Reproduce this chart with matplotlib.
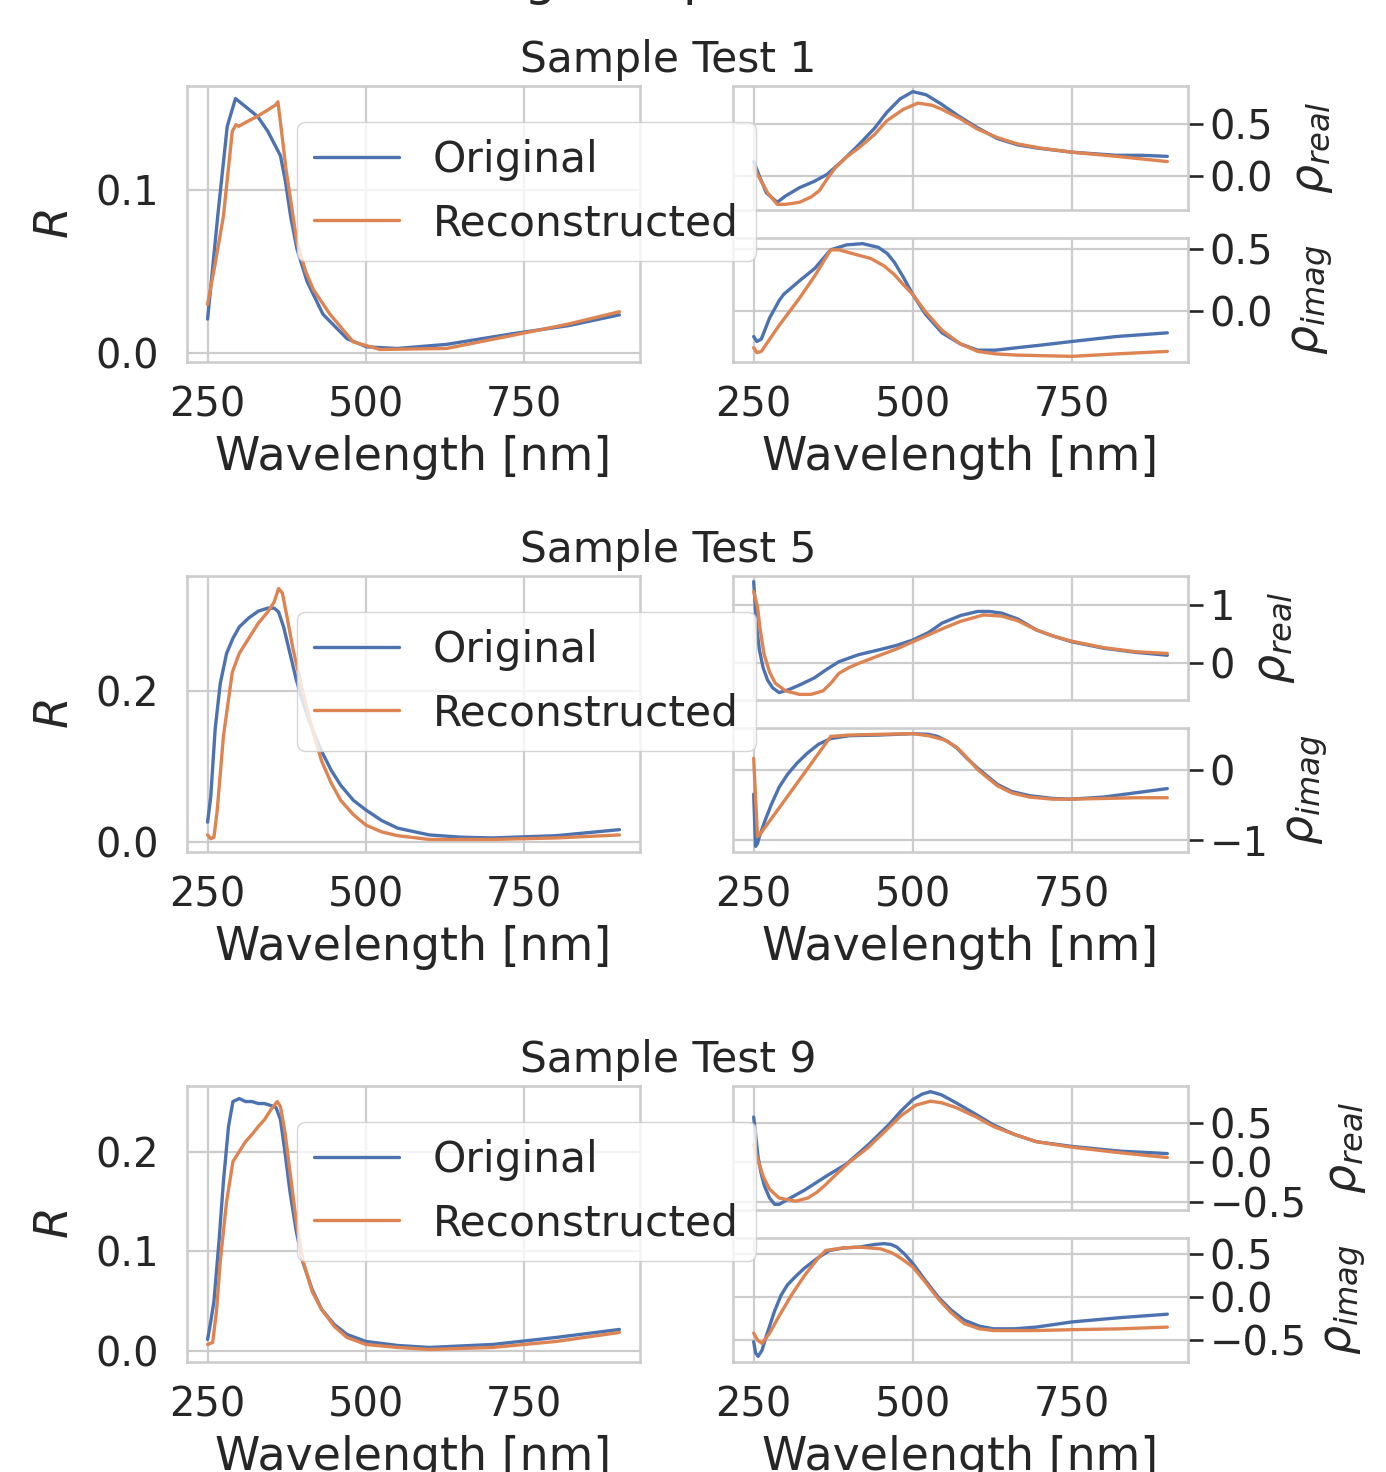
#!/usr/bin/env python3

import matplotlib
matplotlib.use("Agg")
from matplotlib import pyplot as plt
import seaborn as sns

# ---- data ----
samples = [1, 5, 9]

# Sample 1
s1_R_orig_wl = [250, 266, 281, 294, 310, 329, 345, 357, 365, 373, 381, 391, 407, 432, 470, 501, 549, 627, 731, 820, 900]
s1_R_orig = [0.021, 0.084, 0.139, 0.156, 0.151, 0.145, 0.136, 0.127, 0.121, 0.105, 0.084, 0.064, 0.044, 0.024, 0.009, 0.004, 0.003, 0.0055, 0.012, 0.017, 0.0236]
s1_R_rec_wl = [250, 262, 275, 289, 295, 299, 313, 328, 345, 357, 361, 367, 374, 381, 391, 405, 417, 443, 480, 522, 627, 731, 820, 900]
s1_R_rec = [0.030, 0.055, 0.084, 0.136, 0.140, 0.139, 0.142, 0.145, 0.149, 0.152, 0.154, 0.135, 0.112, 0.094, 0.068, 0.050, 0.039, 0.024, 0.007, 0.0024, 0.003, 0.011, 0.018, 0.0255]
s1_re_orig_wl = [250, 259, 270, 287, 300, 322, 345, 365, 390, 415, 440, 459, 480, 500, 521, 545, 571, 600, 633, 665, 695, 750, 820, 860, 900]
s1_re_orig = [0.14, 0.0, -0.16, -0.25, -0.19, -0.11, -0.05, 0.016, 0.15, 0.30, 0.46, 0.61, 0.74, 0.81, 0.78, 0.69, 0.58, 0.47, 0.36, 0.30, 0.27, 0.23, 0.20, 0.20, 0.19]
s1_re_rec_wl = [250, 259, 272, 287, 300, 322, 340, 353, 365, 378, 395, 415, 440, 459, 485, 508, 530, 546, 575, 602, 633, 664, 700, 750, 820, 900]
s1_re_rec = [0.08, -0.015, -0.16, -0.27, -0.27, -0.25, -0.20, -0.14, -0.03, 0.08, 0.18, 0.27, 0.40, 0.53, 0.64, 0.70, 0.68, 0.64, 0.55, 0.45, 0.37, 0.31, 0.27, 0.23, 0.19, 0.14]
s1_im_orig_wl = [250, 255, 262, 275, 290, 297, 322, 346, 371, 396, 421, 446, 460, 471, 485, 500, 520, 546, 575, 602, 630, 664, 700, 750, 820, 900]
s1_im_orig = [-0.21, -0.25, -0.23, -0.06, 0.08, 0.13, 0.24, 0.34, 0.49, 0.53, 0.54, 0.51, 0.46, 0.39, 0.27, 0.13, -0.03, -0.18, -0.27, -0.32, -0.32, -0.30, -0.28, -0.25, -0.21, -0.18]
s1_im_rec_wl = [250, 255, 262, 290, 322, 346, 371, 384, 405, 434, 455, 471, 485, 500, 520, 546, 575, 602, 630, 664, 750, 820, 900]
s1_im_rec = [-0.30, -0.34, -0.33, -0.12, 0.10, 0.28, 0.49, 0.49, 0.46, 0.42, 0.36, 0.29, 0.21, 0.13, -0.01, -0.16, -0.27, -0.33, -0.35, -0.36, -0.37, -0.35, -0.33]

# Sample 5
s5_R_orig_wl = [250, 255, 262, 270, 280, 290, 300, 315, 330, 345, 355, 362, 370, 380, 390, 400, 415, 430, 445, 460, 480, 500, 525, 550, 600, 650, 700, 800, 900]
s5_R_orig = [0.026, 0.06, 0.15, 0.21, 0.25, 0.27, 0.285, 0.297, 0.306, 0.31, 0.31, 0.305, 0.285, 0.25, 0.215, 0.186, 0.15, 0.12, 0.095, 0.075, 0.055, 0.042, 0.028, 0.018, 0.009, 0.006, 0.005, 0.008, 0.016]
s5_R_rec_wl = [250, 255, 260, 265, 275, 289, 300, 315, 330, 345, 355, 362, 368, 375, 385, 400, 415, 430, 445, 460, 480, 500, 525, 550, 600, 700, 800, 900]
s5_R_rec = [0.009, 0.004, 0.006, 0.04, 0.14, 0.225, 0.25, 0.27, 0.29, 0.305, 0.318, 0.336, 0.33, 0.30, 0.255, 0.20, 0.15, 0.107, 0.078, 0.055, 0.036, 0.022, 0.013, 0.008, 0.003, 0.003, 0.005, 0.009]
s5_re_orig_wl = [250, 253, 256, 259, 265, 272, 280, 290, 305, 322, 345, 365, 384, 415, 446, 475, 500, 525, 546, 575, 602, 620, 640, 665, 695, 720, 750, 800, 850, 900]
s5_re_orig = [1.40, 0.91, 0.50, 0.23, -0.08, -0.29, -0.42, -0.50, -0.45, -0.37, -0.25, -0.10, 0.03, 0.15, 0.23, 0.31, 0.40, 0.53, 0.69, 0.82, 0.89, 0.89, 0.86, 0.76, 0.57, 0.47, 0.37, 0.26, 0.19, 0.14]
s5_re_rec_wl = [250, 253, 256, 260, 266, 275, 284, 300, 322, 340, 359, 372, 384, 400, 415, 446, 475, 500, 525, 550, 575, 611, 640, 665, 695, 720, 750, 800, 850, 900]
s5_re_rec = [1.23, 1.10, 0.97, 0.60, 0.17, -0.15, -0.34, -0.47, -0.53, -0.53, -0.47, -0.33, -0.17, -0.07, 0.0, 0.13, 0.25, 0.37, 0.49, 0.61, 0.72, 0.83, 0.81, 0.73, 0.57, 0.47, 0.38, 0.27, 0.20, 0.17]
s5_im_orig_wl = [250, 253, 256, 259, 268, 278, 290, 303, 318, 334, 352, 371, 400, 446, 500, 525, 539, 555, 570, 585, 602, 618, 633, 655, 683, 720, 750, 800, 850, 900]
s5_im_orig = [-0.35, -1.09, -1.05, -0.95, -0.72, -0.49, -0.25, -0.07, 0.09, 0.23, 0.36, 0.44, 0.48, 0.49, 0.51, 0.50, 0.47, 0.40, 0.30, 0.16, 0.02, -0.10, -0.21, -0.31, -0.37, -0.41, -0.42, -0.39, -0.33, -0.27]
s5_im_rec_wl = [250, 253, 256, 259, 300, 340, 371, 400, 446, 500, 525, 550, 570, 585, 602, 618, 633, 655, 683, 720, 750, 800, 850, 900]
s5_im_rec = [0.16, -0.40, -0.95, -0.93, -0.42, 0.08, 0.47, 0.49, 0.50, 0.51, 0.48, 0.42, 0.31, 0.17, 0.0, -0.12, -0.23, -0.33, -0.39, -0.42, -0.42, -0.41, -0.40, -0.40]

# Sample 9
s9_R_orig_wl = [250, 255, 260, 268, 275, 283, 290, 300, 310, 320, 330, 340, 350, 358, 365, 372, 380, 390, 400, 415, 430, 450, 470, 500, 550, 600, 700, 800, 900]
s9_R_orig = [0.012, 0.03, 0.05, 0.11, 0.17, 0.225, 0.25, 0.253, 0.25, 0.25, 0.248, 0.248, 0.246, 0.244, 0.232, 0.20, 0.16, 0.12, 0.09, 0.062, 0.042, 0.027, 0.017, 0.01, 0.006, 0.004, 0.007, 0.014, 0.022]
s9_R_rec_wl = [250, 258, 264, 270, 280, 290, 295, 300, 310, 320, 330, 340, 350, 360, 365, 372, 380, 390, 400, 415, 430, 450, 470, 500, 550, 600, 700, 800, 900]
s9_R_rec = [0.007, 0.009, 0.04, 0.09, 0.15, 0.19, 0.195, 0.20, 0.21, 0.217, 0.225, 0.232, 0.242, 0.25, 0.245, 0.22, 0.18, 0.13, 0.092, 0.06, 0.042, 0.025, 0.014, 0.007, 0.004, 0.002, 0.004, 0.01, 0.019]
s9_re_orig_wl = [250, 257, 262, 267, 275, 283, 290, 303, 330, 363, 396, 430, 462, 482, 500, 515, 528, 545, 568, 600, 627, 660, 694, 750, 826, 900]
s9_re_orig = [0.57, 0.06, -0.15, -0.30, -0.45, -0.53, -0.53, -0.47, -0.35, -0.18, -0.02, 0.22, 0.47, 0.65, 0.79, 0.86, 0.89, 0.85, 0.75, 0.60, 0.47, 0.35, 0.26, 0.20, 0.14, 0.11]
s9_re_rec_wl = [250, 257, 265, 275, 290, 316, 335, 349, 362, 376, 400, 429, 455, 482, 505, 528, 545, 568, 600, 627, 660, 694, 750, 826, 900]
s9_re_rec = [0.22, 0.02, -0.18, -0.34, -0.45, -0.49, -0.45, -0.38, -0.29, -0.18, 0.0, 0.18, 0.38, 0.59, 0.72, 0.77, 0.75, 0.69, 0.57, 0.45, 0.35, 0.26, 0.19, 0.12, 0.06]
s9_im_orig_wl = [250, 253, 257, 263, 270, 283, 293, 303, 316, 329, 350, 369, 392, 416, 440, 455, 466, 475, 487, 500, 520, 541, 560, 581, 605, 627, 660, 694, 750, 826, 900]
s9_im_orig = [-0.52, -0.65, -0.69, -0.62, -0.45, -0.16, 0.02, 0.14, 0.24, 0.33, 0.45, 0.54, 0.57, 0.58, 0.61, 0.62, 0.61, 0.58, 0.50, 0.39, 0.19, -0.01, -0.15, -0.27, -0.34, -0.37, -0.37, -0.35, -0.29, -0.24, -0.20]
s9_im_rec_wl = [250, 256, 263, 275, 290, 310, 330, 350, 363, 390, 416, 449, 465, 475, 487, 500, 520, 541, 560, 581, 605, 627, 694, 750, 826, 900]
s9_im_rec = [-0.42, -0.50, -0.54, -0.42, -0.22, 0.03, 0.25, 0.44, 0.54, 0.57, 0.58, 0.56, 0.52, 0.48, 0.42, 0.35, 0.17, -0.03, -0.18, -0.31, -0.37, -0.39, -0.39, -0.38, -0.37, -0.35]

R_data = [(s1_R_orig_wl, s1_R_orig, s1_R_rec_wl, s1_R_rec),
          (s5_R_orig_wl, s5_R_orig, s5_R_rec_wl, s5_R_rec),
          (s9_R_orig_wl, s9_R_orig, s9_R_rec_wl, s9_R_rec)]
re_data = [(s1_re_orig_wl, s1_re_orig, s1_re_rec_wl, s1_re_rec),
           (s5_re_orig_wl, s5_re_orig, s5_re_rec_wl, s5_re_rec),
           (s9_re_orig_wl, s9_re_orig, s9_re_rec_wl, s9_re_rec)]
im_data = [(s1_im_orig_wl, s1_im_orig, s1_im_rec_wl, s1_im_rec),
           (s5_im_orig_wl, s5_im_orig, s5_im_rec_wl, s5_im_rec),
           (s9_im_orig_wl, s9_im_orig, s9_im_rec_wl, s9_im_rec)]

R_ticks = [[0.0, 0.1], [0.0, 0.2], [0.0, 0.1, 0.2]]
re_ticks = [[0.0, 0.5], [0, 1], [-0.5, 0.0, 0.5]]
im_ticks = [[0.0, 0.5], [-1, 0], [-0.5, 0.0, 0.5]]
x_ticks = [250, 500, 750]

# ---- style ----
sns.set_theme(style="whitegrid", palette="deep")
plt.rcParams['font.family'] = ['DejaVu Sans']
plt.rcParams.update({
    'axes.linewidth': 1.9,
    'grid.linewidth': 1.6,
    'lines.linewidth': 2.4,
    'xtick.labelsize': 28.8,
    'ytick.labelsize': 28.8,
    'axes.labelsize': 33,
    'legend.fontsize': 30.5,
})
blue, orange = sns.color_palette("deep")[:2]

W, H = 1386, 1472
fig = plt.figure(figsize=(W / 100, H / 100), dpi=100)


def px_rect(x0, y0, x1, y1):
    return [x0 / W, 1 - y1 / H, (x1 - x0) / W, (y1 - y0) / H]


# figure title sits above the visible area, only descenders show
fig.text(380 / W, 1 + 5 / H, "Testing Samples", fontsize=36, ha='left', va='baseline')

row_top = [86, 576, 1086]

for i, n in enumerate(samples):
    t = row_top[i]
    ax_re = fig.add_axes(px_rect(733, t, 1188, t + 124))
    ax_im = fig.add_axes(px_rect(733, t + 152, 1188, t + 276), sharex=ax_re)
    ax_R = fig.add_axes(px_rect(187, t, 640, t + 276))
    ax_R.set_zorder(3)

    fig.text(668 / W, 1 - (t - 14) / H, "Sample Test %d" % n,
             ha='center', va='baseline', fontsize=30.5, color='.15')

    wo, vo, wr, vr = R_data[i]
    ax_R.plot(wo, vo, color=blue, label="Original")
    ax_R.plot(wr, vr, color=orange, label="Reconstructed")
    ax_R.set_yticks(R_ticks[i])
    ax_R.set_xticks(x_ticks)
    ax_R.set_ylabel("$R$", labelpad=12)
    ax_R.set_xlabel("Wavelength [nm]", labelpad=6.5)
    ax_R.tick_params(axis='y', length=0, pad=20.5)
    ax_R.tick_params(axis='x', length=0, pad=17)
    ax_R.legend(loc='upper left', bbox_to_anchor=(0.243, 0.870), borderaxespad=0)

    for ax, data, ticks, lab in [(ax_re, re_data[i], re_ticks[i], r"$\rho_{real}$"),
                                 (ax_im, im_data[i], im_ticks[i], r"$\rho_{imag}$")]:
        wo, vo, wr, vr = data
        ax.plot(wo, vo, color=blue)
        ax.plot(wr, vr, color=orange)
        ax.yaxis.tick_right()
        ax.yaxis.set_label_position('right')
        ax.set_yticks(ticks)
        ax.set_ylabel(lab, labelpad=12)
        ax.tick_params(axis='y', length=10.8, width=1.9, pad=4.6)
        ax.tick_params(axis='x', length=0, pad=17)
    ax_re.set_xticks(x_ticks)
    ax_re.tick_params(axis='x', labelbottom=False)
    ax_im.set_xlabel("Wavelength [nm]", labelpad=6.5)

fig.savefig("out.png", dpi=100)
